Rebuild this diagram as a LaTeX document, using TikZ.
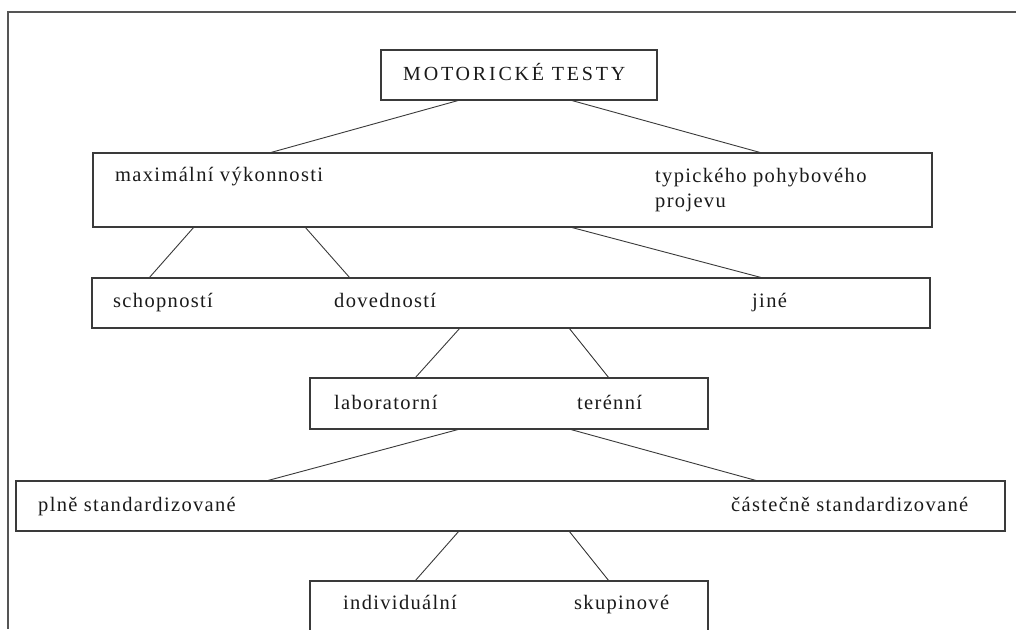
\documentclass[tikz,border=0pt]{standalone}
\usepackage{fontspec}
\setmainfont{Liberation Serif}
\newfontfamily\lblfont[LetterSpace=6.5]{Liberation Serif}
\newfontfamily\ttlfont[LetterSpace=14]{Liberation Serif}
\definecolor{ink}{HTML}{1A1A1A}
\definecolor{edge}{HTML}{3A3A3A}
\definecolor{frame}{HTML}{555555}
\tikzset{
  boxnode/.style={draw=edge, line width=1.1pt, rectangle, anchor=north west, inner sep=0pt, outer sep=0pt},
  lbl/.style={anchor=base west, inner sep=0pt, text=ink, font=\lblfont\fontsize{20.5}{24}\selectfont},
  ttl/.style={anchor=base west, inner sep=0pt, text=ink, font=\ttlfont\fontsize{20}{24}\selectfont},
  link/.style={draw=edge, line width=0.9pt}
}
\begin{document}
\begin{tikzpicture}[x=1pt, y=-1pt]
\useasboundingbox (0,0) rectangle (1016,629);
\begin{scope}
\clip (0,0) rectangle (1016,629);
\fill[white] (0,0) rectangle (1016,629);
% page frame
\draw[frame, line width=1.6pt] (1016,12) -- (8,12) -- (8,629);
% boxes
\node[boxnode, minimum width=276pt, minimum height=50pt] (b1) at (381,50) {};
\node[boxnode, minimum width=839pt, minimum height=74pt] (b2) at (93,153) {};
\node[boxnode, minimum width=838pt, minimum height=50pt] (b3) at (92,278) {};
\node[boxnode, minimum width=398pt, minimum height=51pt] (b4) at (310,378) {};
\node[boxnode, minimum width=989pt, minimum height=50pt] (b5) at (16,481) {};
\node[boxnode, minimum width=398pt, minimum height=60pt] (b6) at (310,581) {};
% labels
\node[ttl] (t1) at (403,80) {MOTORICKÉ TESTY};
\node[lbl] (t2a) at (115,181) {maximální výkonnosti};
\node[lbl] (t2b) at (655,182) {typického pohybového};
\node[lbl] (t2c) at (655,207) {projevu};
\node[lbl] (t3a) at (113,307) {schopností};
\node[lbl] (t3b) at (334,307) {dovedností};
\node[lbl] (t3c) at (752,307) {jiné};
\node[lbl] (t4a) at (334,409) {laboratorní};
\node[lbl] (t4b) at (577,409) {terénní};
\node[lbl] (t5a) at (38,511) {plně standardizované};
\node[lbl] (t5b) at (731,511) {částečně standardizované};
\node[lbl] (t6a) at (343,609) {individuální};
\node[lbl] (t6b) at (574,609) {skupinové};
% connectors
\draw[link] (b1.south -| 460,0) -- (b2.north -| 269,0);
\draw[link] (b1.south -| 570,0) -- (b2.north -| 762,0);
\draw[link] (b2.south -| 194,0) -- (b3.north -| 149,0);
\draw[link] (b2.south -| 305,0) -- (b3.north -| 350,0);
\draw[link] (b2.south -| 570,0) -- (b3.north -| 763,0);
\draw[link] (b3.south -| 460,0) -- (b4.north -| 415,0);
\draw[link] (b3.south -| 569,0) -- (b4.north -| 609,0);
\draw[link] (b4.south -| 460,0) -- (b5.north -| 266,0);
\draw[link] (b4.south -| 569,0) -- (b5.north -| 758,0);
\draw[link] (b5.south -| 459,0) -- (b6.north -| 415,0);
\draw[link] (b5.south -| 569,0) -- (b6.north -| 609,0);
\end{scope}
\end{tikzpicture}
\end{document}
